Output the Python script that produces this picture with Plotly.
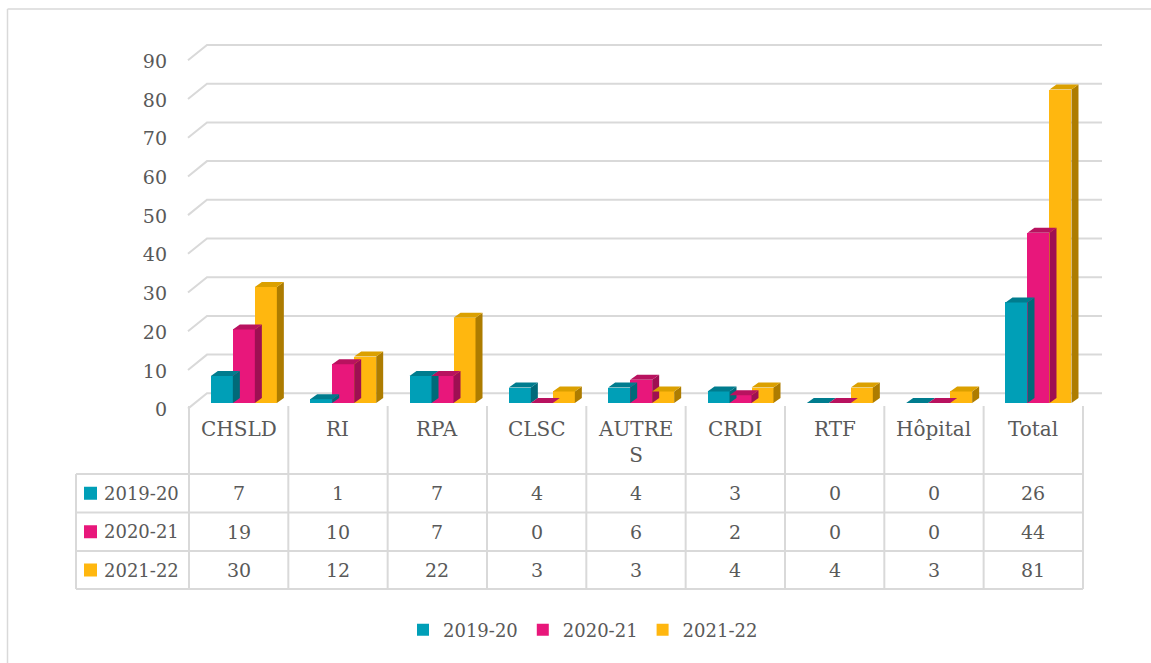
import plotly.graph_objects as go

categories = ["CHSLD", "RI", "RPA", "CLSC", "AUTRES", "CRDI", "RTF", "Hôpital", "Total"]
header_labels = ["CHSLD", "RI", "RPA", "CLSC", "AUTRE<br>S", "CRDI", "RTF", "Hôpital", "Total"]
series_names = ["2019-20", "2020-21", "2021-22"]
v_2019_20 = [7, 1, 7, 4, 4, 3, 0, 0, 26]
v_2020_21 = [19, 10, 7, 0, 6, 2, 0, 0, 44]
v_2021_22 = [30, 12, 22, 3, 3, 4, 4, 3, 81]
y_ticks = [0, 10, 20, 30, 40, 50, 60, 70, 80, 90]

series_values = [v_2019_20, v_2020_21, v_2021_22]
front_colors = ["#009fb7", "#e8177b", "#ffb70f"]
top_colors = ["#007c8e", "#b8125f", "#dba000"]
side_colors = ["#006a79", "#9e0f52", "#ad7c00"]

W, H = 1151, 663
L, R, T, B = 180, 1110, 30, 415
UNIT_X = 99.33
UNIT_Y = 3.87
X0 = -0.5 - (189 - L) / UNIT_X
X1 = X0 + (R - L) / UNIT_X
Y0 = -(B - 403) / UNIT_Y
Y1 = Y0 + (B - T) / UNIT_Y

def px(x):
    return (x - L) / (R - L)

def py(y):
    return (B - y) / (B - T)

FONT = "DejaVu Serif"
TXT = "#595959"
GRID = "#d9d9d9"

bar_w = 22 / UNIT_X
dx = 7 / UNIT_X
dy = 5 / UNIT_Y

fig = go.Figure()

# 3D side and top faces
for s, vals in enumerate(series_values):
    off = -0.28 + s * bar_w
    sx, sy, tx, ty = [], [], [], []
    for c, v in enumerate(vals):
        xa = c + off
        xb = xa + bar_w
        sx += [xb, xb + dx, xb + dx, xb, xb, None]
        sy += [0, dy, v + dy, v, 0, None]
        tx += [xa, xa + dx, xb + dx, xb, xa, None]
        ty += [v, v + dy, v + dy, v, v, None]
    fig.add_trace(go.Scatter(x=sx, y=sy, fill="toself", fillcolor=side_colors[s],
                             mode="lines", line=dict(width=0, color=side_colors[s]),
                             showlegend=False, hoverinfo="skip"))
    fig.add_trace(go.Scatter(x=tx, y=ty, fill="toself", fillcolor=top_colors[s],
                             mode="lines", line=dict(width=0, color=top_colors[s]),
                             showlegend=False, hoverinfo="skip"))

# front faces (legend entries)
for s, vals in enumerate(series_values):
    fig.add_trace(go.Bar(
        x=list(range(len(categories))), y=vals, width=bar_w,
        offset=-0.28 + s * bar_w, name=series_names[s],
        marker=dict(color=front_colors[s], line=dict(width=0)),
        customdata=categories, hovertemplate="%{customdata}: %{y}<extra>" + series_names[s] + "</extra>",
    ))

shapes = []
# back-wall gridlines with perspective diagonals
gx_front = -0.5 - 1 / UNIT_X
gx_back = -0.5 + 18 / UNIT_X
gx_end = -0.5 + 913 / UNIT_X
for v in y_ticks:
    shapes.append(dict(type="path", xref="x", yref="y", layer="below",
                       path=f"M{gx_front},{v - 1.45} L{gx_back},{v + 2.5} L{gx_end},{v + 2.5}",
                       line=dict(color=GRID, width=2)))

# data table grid
col_edges = [189 + k * UNIT_X for k in range(10)]
row_lines = [474, 512.5, 551, 589]
for xe in col_edges:
    shapes.append(dict(type="line", xref="paper", yref="paper",
                       x0=px(xe), x1=px(xe), y0=py(406), y1=py(589),
                       line=dict(color=GRID, width=2)))
shapes.append(dict(type="line", xref="paper", yref="paper",
                   x0=px(76), x1=px(76), y0=py(474), y1=py(589),
                   line=dict(color=GRID, width=2)))
for yl in row_lines:
    shapes.append(dict(type="line", xref="paper", yref="paper",
                       x0=px(76), x1=px(col_edges[-1]), y0=py(yl), y1=py(yl),
                       line=dict(color=GRID, width=2)))
# outer chart border (top and left)
shapes.append(dict(type="line", xref="paper", yref="paper",
                   x0=px(7.5), x1=px(1170), y0=py(9), y1=py(9), line=dict(color=GRID, width=1.5)))
shapes.append(dict(type="line", xref="paper", yref="paper",
                   x0=px(7.5), x1=px(7.5), y0=py(9), y1=py(680), line=dict(color=GRID, width=1.5)))

annotations = []
# header labels
for c, lab in enumerate(header_labels):
    cx = col_edges[c] + UNIT_X / 2
    annotations.append(dict(text=lab, x=px(cx), y=py(415), xref="paper", yref="paper",
                            xanchor="center", yanchor="top", showarrow=False,
                            font=dict(family=FONT, size=20, color=TXT)))
# row labels + values
row_centers = [(row_lines[i] + row_lines[i + 1]) / 2 for i in range(3)]
for s, vals in enumerate(series_values):
    yc = row_centers[s]
    shapes.append(dict(type="rect", xref="paper", yref="paper",
                       x0=px(84), x1=px(97), y0=py(yc - 6.5), y1=py(yc + 6.5),
                       fillcolor=front_colors[s], line=dict(width=0)))
    annotations.append(dict(text=series_names[s], x=px(102), y=py(yc), xref="paper", yref="paper",
                            xanchor="left", yanchor="middle", showarrow=False,
                            font=dict(family=FONT, size=18, color=TXT)))
    for c, v in enumerate(vals):
        cx = col_edges[c] + UNIT_X / 2
        annotations.append(dict(text=str(v), x=px(cx), y=py(yc), xref="paper", yref="paper",
                                xanchor="center", yanchor="middle", showarrow=False,
                                font=dict(family=FONT, size=19, color=TXT)))

fig.update_layout(
    width=W, height=H,
    margin=dict(l=L, r=W - R, t=T, b=H - B, pad=0),
    paper_bgcolor="white", plot_bgcolor="white",
    barmode="overlay", bargap=0,
    xaxis=dict(range=[X0, X1], showgrid=False, zeroline=False, showline=False,
               showticklabels=False, ticks=""),
    yaxis=dict(range=[Y0, Y1], showgrid=False, zeroline=False, showline=False, ticks="",
               tickvals=[v - 1.7 for v in y_ticks], ticktext=[str(v) for v in y_ticks],
               ticklabelstandoff=12,
               tickfont=dict(family=FONT, size=19, color=TXT)),
    shapes=shapes, annotations=annotations,
    legend=dict(orientation="h", x=px(583), xanchor="center", y=py(630), yanchor="middle",
                font=dict(family=FONT, size=18, color=TXT), itemwidth=30,
                bgcolor="rgba(0,0,0,0)"),
    showlegend=True,
)

fig.write_html(
    "out.html",
    config={"displayModeBar": False},
    post_script="document.body.style.margin='0';document.body.style.overflow='hidden';"
                "document.documentElement.style.overflow='hidden';",
)
